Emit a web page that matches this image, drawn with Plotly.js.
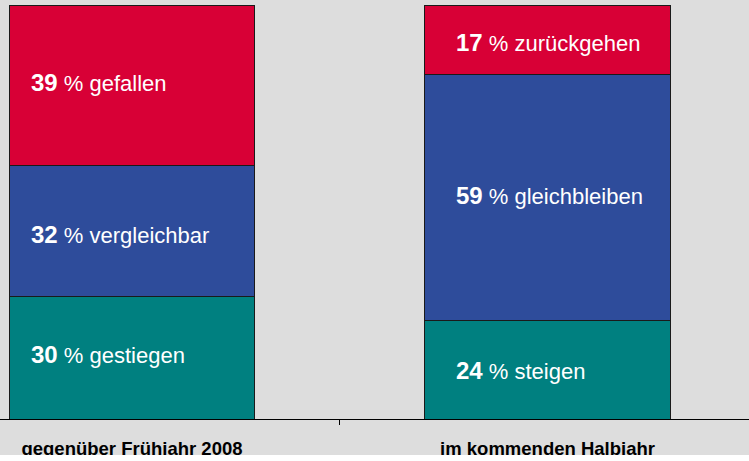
<!DOCTYPE html>
<html>
<head>
<meta charset="utf-8">
<script src="https://cdn.plot.ly/plotly-3.0.1.min.js"></script>
<style>html,body{margin:0;padding:0;background:#dddddd;}#chart{width:749px;height:461px;}</style>
</head>
<body>
<div id="chart"></div>
<script>
// ---- data ----
const categories = ['gegenüber Frühjahr 2008', 'im kommenden Halbjahr'];
const catPos = [0, 1];
const greenValues = [29.7, 23.9];
const blueValues  = [31.6, 59.2];
const redValues   = [38.7, 16.9];
const greenPct = [30, 24];
const bluePct  = [32, 59];
const redPct   = [39, 17];
const greenWords = ['gestiegen', 'steigen'];
const blueWords  = ['vergleichbar', 'gleichbleiben'];
const redWords   = ['gefallen', 'zurückgehen'];

// ---- style ----
const FONT = 'Liberation Sans, Arial, sans-serif';
const BAR_W = 0.59;
const COLORS = {green: '#008080', blue: '#2e4c9b', red: '#d80036'};
const textXShift = [20, 29];
// per segment (green, blue, red) vertical nudges in px, per bar
const textYShift = [[3, -4, 3], [-1, 2, -3]];

function barTrace(vals, color) {
  return {
    type: 'bar', x: catPos, y: vals, width: BAR_W,
    marker: {color: color, line: {color: '#1a1a1a', width: 1}},
    hoverinfo: 'none', showlegend: false
  };
}

const traces = [
  barTrace(greenValues, COLORS.green),
  barTrace(blueValues, COLORS.blue),
  barTrace(redValues, COLORS.red)
];

const annotations = [];
const segs = [[greenValues, greenPct, greenWords], [blueValues, bluePct, blueWords], [redValues, redPct, redWords]];
catPos.forEach((cx, i) => {
  let base = 0;
  segs.forEach(([vals, pcts, words], s) => {
    const mid = base + vals[i] / 2;
    base += vals[i];
    annotations.push({
      x: cx - BAR_W / 2, y: mid, xref: 'x', yref: 'y',
      xanchor: 'left', yanchor: 'middle', xshift: textXShift[i], yshift: textYShift[i][s],
      showarrow: false,
      text: '<b><span style="font-size:24px">' + pcts[i] + '</span></b> % ' + words[i],
      font: {family: FONT, size: 22, color: '#ffffff'}
    });
  });
});

const layout = {
  width: 749, height: 461,
  margin: {l: 0, r: 0, t: 5, b: 42, pad: 0},
  paper_bgcolor: '#dddddd', plot_bgcolor: '#dddddd',
  barmode: 'stack',
  showlegend: false,
  xaxis: {
    range: [-0.3177, 1.485], tickmode: 'array', tickvals: catPos, ticktext: categories,
    ticks: '', showline: true, linecolor: '#000000', linewidth: 1,
    showgrid: false, zeroline: false, ticklabelstandoff: 13,
    tickfont: {family: FONT, size: 18.5, color: '#000000', weight: 'bold'},
    minor: {tickmode: 'array', tickvals: [0.5], ticks: 'outside', ticklen: 5, tickcolor: '#000000', tickwidth: 1, showgrid: false}
  },
  yaxis: {range: [0, 100], visible: false, showgrid: false, zeroline: false},
  shapes: [{
    type: 'rect', xref: 'paper', yref: 'paper', x0: -0.01, x1: 1.01,
    y0: -36 / 414, y1: -0.12, fillcolor: '#ffffff', line: {width: 0}, layer: 'above'
  }],
  annotations: annotations
};

Plotly.newPlot('chart', traces, layout, {staticPlot: true, displayModeBar: false});
</script>
</body>
</html>
